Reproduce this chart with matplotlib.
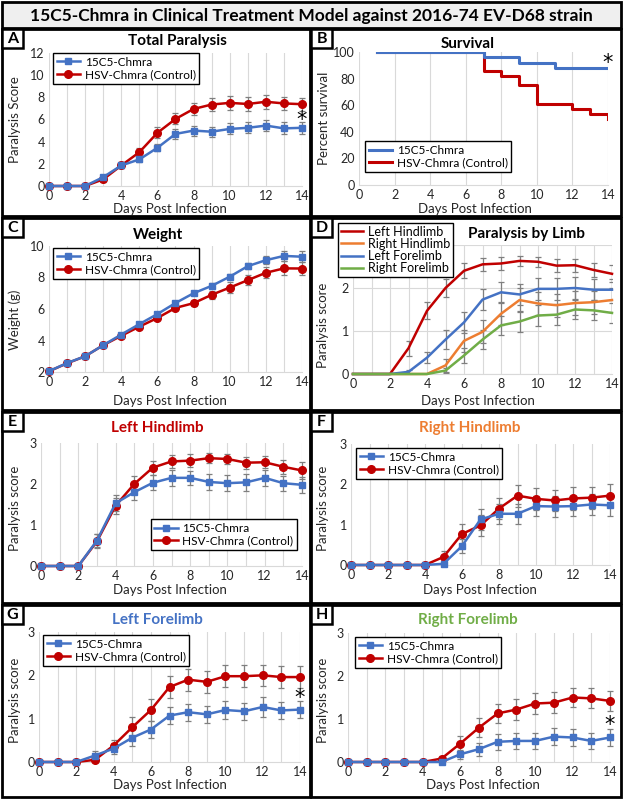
import matplotlib
matplotlib.use('Agg')
import matplotlib.pyplot as plt
from matplotlib.patches import Rectangle

plt.rcParams['font.family'] = ['Lato', 'DejaVu Sans']

# ---------------- data ----------------
days = list(range(15))

total_15c5 = [0, 0, 0, 0.8, 1.85, 2.4, 3.45, 4.7, 5.0, 4.9, 5.15, 5.25, 5.45, 5.2, 5.25]
total_15c5_err = [0, 0, 0, 0.15, 0.2, 0.2, 0.3, 0.45, 0.45, 0.45, 0.5, 0.5, 0.5, 0.55, 0.55]
total_hsv = [0, 0, 0, 0.6, 1.85, 3.05, 4.8, 6.05, 6.95, 7.35, 7.5, 7.4, 7.6, 7.45, 7.38]
total_hsv_err = [0, 0, 0, 0.2, 0.2, 0.35, 0.5, 0.5, 0.55, 0.55, 0.6, 0.6, 0.65, 0.6, 0.6]

surv_days_15c5 = [1, 7, 9, 11, 14]
surv_15c5 = [100, 96, 92, 88, 88]
surv_days_hsv = [1, 7, 8, 9, 10, 12, 13, 14]
surv_hsv = [100, 85.7, 82.1, 75, 60.7, 57.1, 53.6, 50]

weight_15c5 = [2.05, 2.57, 3.0, 3.7, 4.38, 5.04, 5.68, 6.38, 7.0, 7.47, 8.05, 8.72, 9.1, 9.37, 9.32]
weight_15c5_err = [0.05, 0.08, 0.08, 0.1, 0.1, 0.1, 0.1, 0.1, 0.1, 0.15, 0.15, 0.2, 0.25, 0.3, 0.35]
weight_hsv = [2.05, 2.55, 3.0, 3.7, 4.3, 4.88, 5.43, 6.07, 6.37, 6.9, 7.36, 7.83, 8.3, 8.58, 8.57]
weight_hsv_err = [0.05, 0.08, 0.08, 0.1, 0.1, 0.1, 0.15, 0.15, 0.2, 0.25, 0.35, 0.3, 0.35, 0.45, 0.4]

lh_15c5 = [0, 0, 0, 0.62, 1.53, 1.8, 2.03, 2.15, 2.15, 2.05, 2.02, 2.04, 2.15, 2.02, 1.98]
lh_15c5_err = [0, 0, 0, 0.15, 0.2, 0.2, 0.18, 0.2, 0.17, 0.2, 0.2, 0.2, 0.2, 0.18, 0.2]
lh_hsv = [0, 0, 0, 0.6, 1.47, 2.0, 2.4, 2.55, 2.57, 2.63, 2.61, 2.52, 2.53, 2.42, 2.33]
lh_hsv_err = [0, 0, 0, 0.17, 0.2, 0.2, 0.17, 0.15, 0.15, 0.12, 0.12, 0.15, 0.15, 0.17, 0.2]

rh_15c5 = [0, 0, 0, 0, 0, 0.03, 0.47, 1.13, 1.27, 1.27, 1.46, 1.45, 1.46, 1.5, 1.48]
rh_15c5_err = [0, 0, 0, 0, 0, 0.03, 0.17, 0.25, 0.25, 0.25, 0.25, 0.25, 0.25, 0.27, 0.27]
rh_hsv = [0, 0, 0, 0, 0, 0.2, 0.77, 0.98, 1.4, 1.72, 1.64, 1.6, 1.65, 1.67, 1.72]
rh_hsv_err = [0, 0, 0, 0, 0, 0.15, 0.25, 0.27, 0.27, 0.27, 0.27, 0.27, 0.28, 0.27, 0.28]

lf_15c5 = [0, 0, 0, 0.15, 0.31, 0.56, 0.75, 1.07, 1.15, 1.1, 1.2, 1.17, 1.27, 1.19, 1.21]
lf_15c5_err = [0, 0, 0, 0.1, 0.12, 0.2, 0.2, 0.2, 0.2, 0.2, 0.2, 0.2, 0.22, 0.2, 0.2]
lf_hsv = [0, 0, 0, 0.05, 0.38, 0.8, 1.2, 1.73, 1.9, 1.85, 1.98, 1.98, 2.0, 1.96, 1.96]
lf_hsv_err = [0, 0, 0, 0.05, 0.13, 0.23, 0.25, 0.25, 0.25, 0.25, 0.25, 0.25, 0.25, 0.25, 0.25]

rf_15c5 = [0, 0, 0, 0, 0, 0, 0.18, 0.3, 0.47, 0.49, 0.49, 0.59, 0.57, 0.49, 0.57]
rf_15c5_err = [0, 0, 0, 0, 0, 0, 0.1, 0.15, 0.18, 0.18, 0.18, 0.2, 0.2, 0.18, 0.2]
rf_hsv = [0, 0, 0, 0, 0, 0.08, 0.43, 0.8, 1.13, 1.22, 1.36, 1.38, 1.5, 1.48, 1.42]
rf_hsv_err = [0, 0, 0, 0, 0, 0.05, 0.18, 0.22, 0.23, 0.24, 0.24, 0.24, 0.23, 0.23, 0.24]

label_15c5 = '15C5-Chmra'
label_hsv = 'HSV-Chmra (Control)'
limb_labels = ['Left Hindlimb', 'Right Hindlimb', 'Left Forelimb', 'Right Forelimb']

BLUE = '#4472C4'
RED = '#C00000'
ORANGE = '#ED7D31'
GREEN = '#70AD47'
ERR = '#7f7f7f'
GRID = '#d9d9d9'
TXT = '#262626'

# ---------------- figure ----------------
W, H = 623, 799
fig = plt.figure(figsize=(W / 100, H / 100), dpi=100)


def fx(x):
    return x / W


def fy(y):
    return 1 - y / H


def add_ax(x0, x1, y0, y1):
    return fig.add_axes([fx(x0), fy(y1), (x1 - x0) / W, (y1 - y0) / H])


def box(x0, y0, x1, y1, fc='none', lw=2.0):
    fig.patches.append(Rectangle((fx(x0), fy(y1)), (x1 - x0) / W, (y1 - y0) / H,
                                 transform=fig.transFigure, fill=(fc != 'none'),
                                 facecolor=fc, edgecolor='black', lw=lw))


def ftext(x, y, s, **kw):
    fig.text(fx(x), fy(y), s, **kw)


def style(ax, ylim, yticks, yticklabels=None, minor=True):
    ax.set_xlim(0, 14)
    ax.set_ylim(*ylim)
    ax.set_xticks(range(0, 15, 2))
    if minor:
        ax.set_xticks(range(15), minor=True)
        ax.grid(True, which='both', axis='x', color=GRID, lw=0.8)
    else:
        ax.grid(True, which='major', axis='x', color=GRID, lw=0.8)
    ax.set_axisbelow(True)
    ax.set_yticks(yticks)
    if yticklabels is not None:
        ax.set_yticklabels(yticklabels)
    ax.tick_params(which='both', length=0, labelsize=9, colors=TXT, pad=3)
    for s in ['top', 'right', 'left']:
        ax.spines[s].set_visible(False)
    ax.spines['bottom'].set_color(GRID)


def series(ax, y, err, color, marker, ms, label=None):
    ax.errorbar(days, y, yerr=err, fmt='none', ecolor=ERR, elinewidth=0.9,
                capsize=2.5, capthick=0.9, zorder=2, clip_on=False)
    line, = ax.plot(days, y, color=color, lw=1.8, marker=marker, ms=ms, label=label,
                    zorder=3, clip_on=False)
    return line


def legend(ax, handles, labels, x, y, loc='upper left', fs=8.5, hl=2.0, ls=0.15, bp=0.3):
    leg = ax.legend(handles, labels, loc=loc, bbox_to_anchor=(fx(x), fy(y)),
                    bbox_transform=fig.transFigure, frameon=True, fancybox=False,
                    edgecolor='black', framealpha=1, fontsize=fs, borderpad=bp,
                    labelspacing=ls, handlelength=hl, handletextpad=0.4, borderaxespad=0)
    leg.get_frame().set_linewidth(1.0)
    leg.set_zorder(10)
    return leg


def two_series(ax, a, ae, b, be):
    hr = series(ax, b, be, RED, 'o', 5.5, label_hsv)
    hb = series(ax, a, ae, BLUE, 's', 5, label_15c5)
    return [hb, hr], [label_15c5, label_hsv]


def star(ax, x, y):
    ax.text(x, y, '*', ha='center', va='center', fontsize=15, color='black',
            family='DejaVu Sans')


# frames
box(2, 2, 621, 28, fc='#efefef')
ftext(311, 15.5, '15C5-Chmra in Clinical Treatment Model against 2016-74 EV-D68 strain',
      ha='center', va='center', fontsize=12.5, fontweight='bold', color='black')
for (x0, x1) in [(2, 310), (311, 621)]:
    for (y0, y1) in [(29, 216), (218, 410), (412, 603), (605, 797)]:
        box(x0, y0, x1, y1)

letters = [('A', 2, 29), ('B', 311, 29), ('C', 2, 218), ('D', 311, 218),
           ('E', 2, 412), ('F', 311, 412), ('G', 2, 605), ('H', 311, 605)]
for s, x, y in letters:
    box(x, y, x + 21, y + 19, fc='white', lw=1.8)
    ftext(x + 10.5, y + 10, s, ha='center', va='center', fontsize=11.5,
          fontweight='bold', color='black')

# ---- A ----
ax = add_ax(49, 302, 53, 186)
style(ax, (0, 12), range(0, 13, 2))
h, l = two_series(ax, total_15c5, total_15c5_err, total_hsv, total_hsv_err)
legend(ax, h, l, 53, 53)
star(ax, 14, 6.0)
ftext(177, 41, 'Total Paralysis', ha='center', va='center', fontsize=11, fontweight='bold')
ftext(15, 120, 'Paralysis Score', ha='center', va='center', rotation=90, fontsize=9.5, color=TXT)
ftext(170, 209, 'Days Post Infection', ha='center', va='center', fontsize=9.5, color=TXT)

# ---- B ----
ax = add_ax(359, 608, 52, 185)
style(ax, (0, 100), range(0, 101, 20), minor=False)
hr, = ax.plot(surv_days_hsv, surv_hsv, drawstyle='steps-post', color=RED, lw=2.2)
hb, = ax.plot(surv_days_15c5, surv_15c5, drawstyle='steps-post', color=BLUE, lw=2.2)
legend(ax, [hb, hr], [label_15c5, label_hsv], 365, 172, loc='lower left')
star(ax, 14, 92)
ftext(468, 44, 'Survival', ha='center', va='center', fontsize=11, fontweight='bold')
ftext(324, 118, 'Percent survival', ha='center', va='center', rotation=90, fontsize=9.5, color=TXT)
ftext(475, 209, 'Days Post Infection', ha='center', va='center', fontsize=9.5, color=TXT)

# ---- C ----
ax = add_ax(49, 302, 246, 372)
style(ax, (2, 10), range(2, 11, 2))
h, l = two_series(ax, weight_15c5, weight_15c5_err, weight_hsv, weight_hsv_err)
legend(ax, h, l, 53, 248)
ftext(158, 235, 'Weight', ha='center', va='center', fontsize=11, fontweight='bold')
ftext(15, 320, 'Weight (g)', ha='center', va='center', rotation=90, fontsize=9.5, color=TXT)
ftext(170, 401, 'Days Post Infection', ha='center', va='center', fontsize=9.5, color=TXT)

# ---- D ----
ax = add_ax(353, 612, 245, 374)
style(ax, (0, 3), [0, 1, 2, 3], ['0', '1', '2', ''])
ax.grid(True, which='major', axis='y', color=GRID, lw=0.8)
limb_vals = [lh_hsv, rh_hsv, lf_hsv, rf_hsv]
limb_errs = [lh_hsv_err, rh_hsv_err, lf_hsv_err, rf_hsv_err]
limb_cols = [RED, ORANGE, BLUE, GREEN]
hs = []
for v, e, c in zip(limb_vals, limb_errs, limb_cols):
    ax.errorbar(days, v, yerr=e, fmt='none', ecolor=ERR, elinewidth=0.9,
                capsize=2.5, capthick=0.9, zorder=2)
    ln, = ax.plot(days, v, color=c, lw=1.8, zorder=3, clip_on=False)
    hs.append(ln)
legend(ax, hs, limb_labels, 338, 223, fs=9, hl=1.8, ls=0.02, bp=0.2)
ftext(527, 234, 'Paralysis by Limb', ha='center', va='center', fontsize=11, fontweight='bold')
ftext(323, 325, 'Paralysis score', ha='center', va='center', rotation=90, fontsize=9.5, color=TXT)
ftext(478, 401, 'Days Post Infection', ha='center', va='center', fontsize=9.5, color=TXT)

# ---- E ----
ax = add_ax(41, 302, 443, 566)
style(ax, (0, 3), [0, 1, 2, 3])
h, l = two_series(ax, lh_15c5, lh_15c5_err, lh_hsv, lh_hsv_err)
legend(ax, h, l, 297, 550, loc='lower right')
ftext(157, 428, 'Left Hindlimb', ha='center', va='center', fontsize=11, fontweight='bold', color=RED)
ftext(15, 508, 'Paralysis score', ha='center', va='center', rotation=90, fontsize=9.5, color=TXT)
ftext(170, 590, 'Days Post Infection', ha='center', va='center', fontsize=9.5, color=TXT)

# ---- F ----
ax = add_ax(351, 610, 444, 565)
style(ax, (0, 3), [0, 1, 2, 3])
h, l = two_series(ax, rh_15c5, rh_15c5_err, rh_hsv, rh_hsv_err)
legend(ax, h, l, 356, 448)
ftext(470, 428, 'Right Hindlimb', ha='center', va='center', fontsize=11, fontweight='bold', color=ORANGE)
ftext(323, 508, 'Paralysis score', ha='center', va='center', rotation=90, fontsize=9.5, color=TXT)
ftext(480, 590, 'Days Post Infection', ha='center', va='center', fontsize=9.5, color=TXT)

# ---- G ----
ax = add_ax(39, 300, 632, 762)
style(ax, (0, 3), [0, 1, 2, 3])
h, l = two_series(ax, lf_15c5, lf_15c5_err, lf_hsv, lf_hsv_err)
legend(ax, h, l, 43, 635)
star(ax, 14, 1.48)
ftext(157, 620, 'Left Forelimb', ha='center', va='center', fontsize=11, fontweight='bold', color=BLUE)
ftext(15, 700, 'Paralysis score', ha='center', va='center', rotation=90, fontsize=9.5, color=TXT)
ftext(170, 785, 'Days Post Infection', ha='center', va='center', fontsize=9.5, color=TXT)

# ---- H ----
ax = add_ax(348, 610, 633, 762)
style(ax, (0, 3), [0, 1, 2, 3])
h, l = two_series(ax, rf_15c5, rf_15c5_err, rf_hsv, rf_hsv_err)
legend(ax, h, l, 355, 637)
star(ax, 14, 0.85)
ftext(468, 620, 'Right Forelimb', ha='center', va='center', fontsize=11, fontweight='bold', color=GREEN)
ftext(323, 700, 'Paralysis score', ha='center', va='center', rotation=90, fontsize=9.5, color=TXT)
ftext(483, 785, 'Days Post Infection', ha='center', va='center', fontsize=9.5, color=TXT)

fig.savefig('out.png', dpi=100)
